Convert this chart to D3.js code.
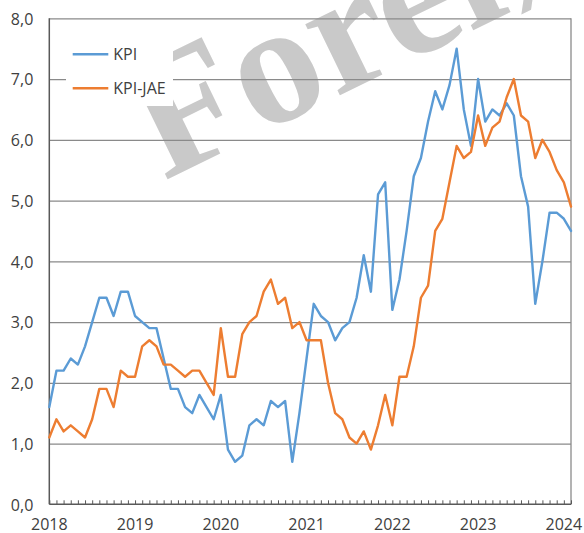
<!DOCTYPE html>
<html>
<head>
<meta charset="utf-8">
<script src="https://cdn.jsdelivr.net/npm/d3@7"></script>
<style>
  html, body { margin: 0; padding: 0; background: #fff; }
  svg { display: block; }
  text { font-family: "Open Sans", "Noto Sans", sans-serif; fill: #404040; }
</style>
</head>
<body>
<svg id="chart" width="584" height="533"></svg>
<script>
// ---- data (monthly, Jan 2018 – Feb 2024) ----
const startMonth = new Date(2018, 0, 1);
const endMonth = new Date(2024, 2, 1); // exclusive
const kpi = [1.6, 2.2, 2.2, 2.4, 2.3, 2.6, 3.0, 3.4, 3.4, 3.1, 3.5, 3.5,
             3.1, 3.0, 2.9, 2.9, 2.4, 1.9, 1.9, 1.6, 1.5, 1.8, 1.6, 1.4,
             1.8, 0.9, 0.7, 0.8, 1.3, 1.4, 1.3, 1.7, 1.6, 1.7, 0.7, 1.5,
             2.4, 3.3, 3.1, 3.0, 2.7, 2.9, 3.0, 3.4, 4.1, 3.5, 5.1, 5.3,
             3.2, 3.7, 4.5, 5.4, 5.7, 6.3, 6.8, 6.5, 6.9, 7.5, 6.5, 5.9,
             7.0, 6.3, 6.5, 6.4, 6.6, 6.4, 5.4, 4.9, 3.3, 4.0, 4.8, 4.8,
             4.7, 4.5];
const kpiJae = [1.1, 1.4, 1.2, 1.3, 1.2, 1.1, 1.4, 1.9, 1.9, 1.6, 2.2, 2.1,
                2.1, 2.6, 2.7, 2.6, 2.3, 2.3, 2.2, 2.1, 2.2, 2.2, 2.0, 1.8,
                2.9, 2.1, 2.1, 2.8, 3.0, 3.1, 3.5, 3.7, 3.3, 3.4, 2.9, 3.0,
                2.7, 2.7, 2.7, 2.0, 1.5, 1.4, 1.1, 1.0, 1.2, 0.9, 1.3, 1.8,
                1.3, 2.1, 2.1, 2.6, 3.4, 3.6, 4.5, 4.7, 5.3, 5.9, 5.7, 5.8,
                6.4, 5.9, 6.2, 6.3, 6.7, 7.0, 6.4, 6.3, 5.7, 6.0, 5.8, 5.5,
                5.3, 4.9];
const seriesNames = ["KPI", "KPI-JAE"];
const seriesColors = ["#5B9BD5", "#ED7D31"];
const yTicks = [0, 1, 2, 3, 4, 5, 6, 7, 8];
const yearLabels = ["2018", "2019", "2020", "2021", "2022", "2023", "2024"];
const watermarkText = "Foreløpig";

// ---- layout ----
const months = d3.timeMonth.range(startMonth, endMonth);
const svg = d3.select("#chart");
const L = 49.3, R = 571, T = 18.3, B = 504.3;

const x = d3.scalePoint().domain(months.map((d, i) => i)).range([L, R]);
const y = d3.scaleLinear().domain([0, 8]).range([B, T]);
const fmt = v => d3.format(".1f")(v).replace(".", ",");

// watermark (behind grid)
svg.append("text")
  .attr("transform", "translate(164,181) rotate(-26)")
  .style("font-family", "'Liberation Serif', 'DejaVu Serif', serif")
  .style("font-weight", "bold")
  .style("font-size", "172px")
  .style("fill", "#c9c9c9")
  .text(watermarkText);

// gridlines
const yAxisGrid = d3.axisLeft(y).tickValues(yTicks.slice(1)).tickSize(-(R - L)).tickFormat("");
svg.append("g").attr("transform", `translate(${L},0)`).call(yAxisGrid)
  .call(g => g.select(".domain").remove())
  .call(g => g.selectAll("line").attr("stroke", "#8a8a8a").attr("stroke-width", 1.3));

// right border
svg.append("line").attr("x1", R).attr("x2", R).attr("y1", T).attr("y2", B)
  .attr("stroke", "#8a8a8a").attr("stroke-width", 1.3);

// y axis labels
const yAxis = d3.axisLeft(y).tickValues(yTicks).tickSize(0).tickPadding(16).tickFormat(fmt);
svg.append("g").attr("transform", `translate(${L},0)`).call(yAxis)
  .call(g => g.select(".domain").remove())
  .call(g => g.selectAll("text").attr("dy", "0.36em").style("font-size", "16px")
       .style("font-family", "'Open Sans', sans-serif").attr("fill", "#404040"));

// x axis: ticks every month (pointing into plot), labels each January
const xAxis = d3.axisBottom(x).tickSize(-4).tickFormat("");
svg.append("g").attr("transform", `translate(0,${B})`).call(xAxis)
  .call(g => g.select(".domain").remove())
  .call(g => g.selectAll("line").attr("stroke", "#595959").attr("stroke-width", 1));

const yearIdx = yearLabels.map((lab, k) => k * 12);
svg.append("g").selectAll("text").data(yearLabels).join("text")
  .attr("x", (d, k) => x(yearIdx[k]))
  .attr("y", 530)
  .attr("text-anchor", "middle")
  .style("font-size", "16px")
  .text(d => d);

// axis lines
svg.append("line").attr("x1", L).attr("x2", R).attr("y1", B).attr("y2", B)
  .attr("stroke", "#595959").attr("stroke-width", 1.5);
svg.append("line").attr("x1", L).attr("x2", L).attr("y1", T).attr("y2", B)
  .attr("stroke", "#595959").attr("stroke-width", 1.5);

// series lines
const line = d3.line().x((d, i) => x(i)).y(d => y(d));
[kpi, kpiJae].forEach((s, k) => {
  svg.append("path").datum(s)
    .attr("fill", "none")
    .attr("stroke", seriesColors[k])
    .attr("stroke-width", 2.4)
    .attr("stroke-linejoin", "round")
    .attr("stroke-linecap", "round")
    .attr("d", line);
});

// legend
const lg = svg.append("g");
lg.append("rect").attr("x", 66).attr("y", 34).attr("width", 107).attr("height", 72).attr("fill", "#fff");
seriesNames.forEach((name, k) => {
  const ly = 54.3 + k * 34;
  lg.append("line").attr("x1", 72.7).attr("x2", 108.3).attr("y1", ly).attr("y2", ly)
    .attr("stroke", seriesColors[k]).attr("stroke-width", 2.4);
  lg.append("text").attr("x", 113.3).attr("y", ly + 5.7).style("font-size", "16px").text(name);
});
</script>
</body>
</html>
